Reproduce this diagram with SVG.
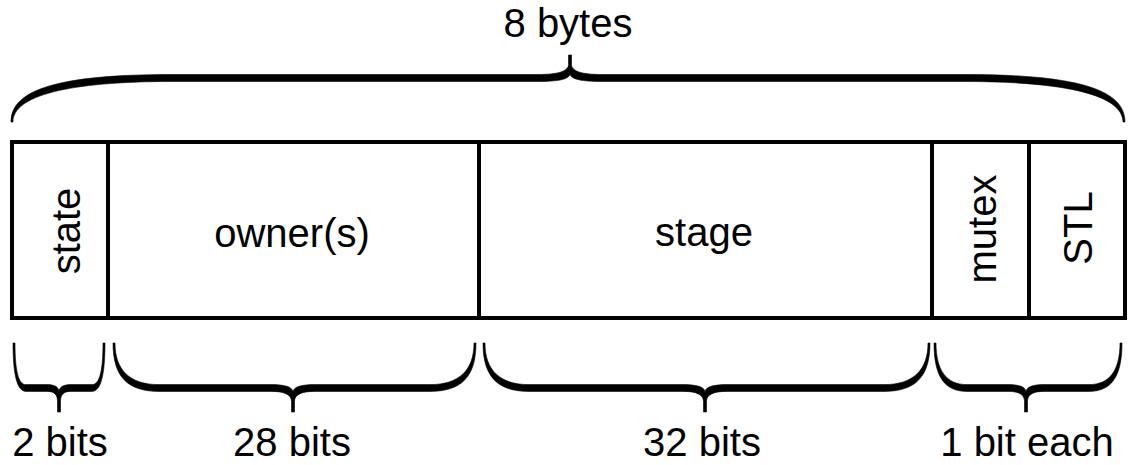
<svg xmlns="http://www.w3.org/2000/svg" width="1131" height="465" viewBox="0 0 1131 465">
  <style>
    .field { fill: #ffffff; stroke: #000000; stroke-width: 4; }
    .divider { stroke: #000000; stroke-width: 4; fill: none; }
    .brace { fill: #000000; stroke: #000000; stroke-width: 0.6; stroke-linejoin: round; }
    .label { font-family: "Liberation Sans", Arial, Helvetica, sans-serif; font-size: 40px; fill: #000000; text-anchor: middle; }
  </style>
  <rect x="0" y="0" width="1131" height="465" fill="#ffffff"/>

  <!-- overall size brace -->
  <g id="brace-total">
    <path class="brace" d="M 11,122 C 11,89 60,74.5 172,74.5 L 538,74.5 C 557.2,74.5 568.5,71.5 568.5,64.5 L 568.5,55 L 571.5,55 L 571.5,64.5 C 571.5,71.5 582.8,74.5 602,74.5 L 964,74.5 C 1076,74.5 1125,89 1125,122 L 1123,122 C 1123,95.6 1068,81.5 964,81.5 L 602,81.5 C 582.8,81.5 570,79.5 570,73.5 C 570,79.5 557.2,81.5 538,81.5 L 172,81.5 C 68,81.5 13,95.6 13,122 Z"/>
    <text class="label" x="568" y="37">8 bytes</text>
  </g>

  <!-- the 64-bit word and its fields -->
  <g id="word">
    <rect class="field" x="12" y="142" width="1113" height="176"/>
  </g>
  <g id="connectors">
    <line class="divider" x1="108" y1="142" x2="108" y2="318"/>
    <line class="divider" x1="479" y1="142" x2="479" y2="318"/>
    <line class="divider" x1="932" y1="142" x2="932" y2="318"/>
    <line class="divider" x1="1029" y1="142" x2="1029" y2="318"/>
  </g>

  <g id="field-state">
    <text class="label" transform="translate(80,231) rotate(-90)">state</text>
  </g>
  <g id="field-owners">
    <text class="label" x="292" y="247">owner(s)</text>
  </g>
  <g id="field-stage">
    <text class="label" x="704" y="246">stage</text>
  </g>
  <g id="field-mutex">
    <text class="label" transform="translate(996,229) rotate(-90)">mutex</text>
  </g>
  <g id="field-stl">
    <text class="label" transform="translate(1092,228) rotate(-90)">STL</text>
  </g>

  <!-- per-field width braces -->
  <g id="brace-state">
    <path class="brace" d="M 13,343 C 13,376.8 17.6,391.4 26,391.4 L 47,391.4 C 54.2,391.4 57.5,394.4 57.5,401.4 L 57.5,412 L 60.5,412 L 60.5,401.4 C 60.5,394.4 63.8,391.4 71,391.4 L 92,391.4 C 100.4,391.4 105,376.8 105,343 L 103,343 C 103,370 99.8,384.6 92,384.6 L 71,384.6 C 63.8,384.6 59,386.6 59,392.4 C 59,386.6 54.2,384.6 47,384.6 L 26,384.6 C 18.2,384.6 15,370 15,343 Z"/>
    <text class="label" x="60" y="456">2 bits</text>
  </g>
  <g id="brace-owners">
    <path class="brace" d="M 113,343 C 113,376.8 127.5,391.4 159,391.4 L 271,391.4 C 284.2,391.4 291.5,394.4 291.5,401.4 L 291.5,412 L 294.5,412 L 294.5,401.4 C 294.5,394.4 301.8,391.4 315,391.4 L 430,391.4 C 461.5,391.4 476,376.8 476,343 L 474,343 C 474,370 459.3,384.6 430,384.6 L 315,384.6 C 301.8,384.6 293,386.6 293,392.4 C 293,386.6 284.2,384.6 271,384.6 L 159,384.6 C 129.8,384.6 115,370 115,343 Z"/>
    <text class="label" x="292" y="456">28 bits</text>
  </g>
  <g id="brace-stage">
    <path class="brace" d="M 483,343 C 483,376.8 497.5,391.4 529,391.4 L 683,391.4 C 696.2,391.4 703.5,394.4 703.5,401.4 L 703.5,412 L 706.5,412 L 706.5,401.4 C 706.5,394.4 713.8,391.4 727,391.4 L 884,391.4 C 915.5,391.4 930,376.8 930,343 L 928,343 C 928,370 913.3,384.6 884,384.6 L 727,384.6 C 713.8,384.6 705,386.6 705,392.4 C 705,386.6 696.2,384.6 683,384.6 L 529,384.6 C 499.8,384.6 485,370 485,343 Z"/>
    <text class="label" x="702" y="456">32 bits</text>
  </g>
  <g id="brace-flags">
    <path class="brace" d="M 934,343 C 934,376.8 944.6,391.4 967,391.4 L 1008,391.4 C 1018.8,391.4 1024.5,394.4 1024.5,401.4 L 1024.5,412 L 1027.5,412 L 1027.5,401.4 C 1027.5,394.4 1033.2,391.4 1044,391.4 L 1089,391.4 C 1111.4,391.4 1122,376.8 1122,343 L 1120,343 C 1120,370 1109.8,384.6 1089,384.6 L 1044,384.6 C 1033.2,384.6 1026,386.6 1026,392.4 C 1026,386.6 1018.8,384.6 1008,384.6 L 967,384.6 C 946.2,384.6 936,370 936,343 Z"/>
    <text class="label" x="1027" y="456">1 bit each</text>
  </g>
</svg>
